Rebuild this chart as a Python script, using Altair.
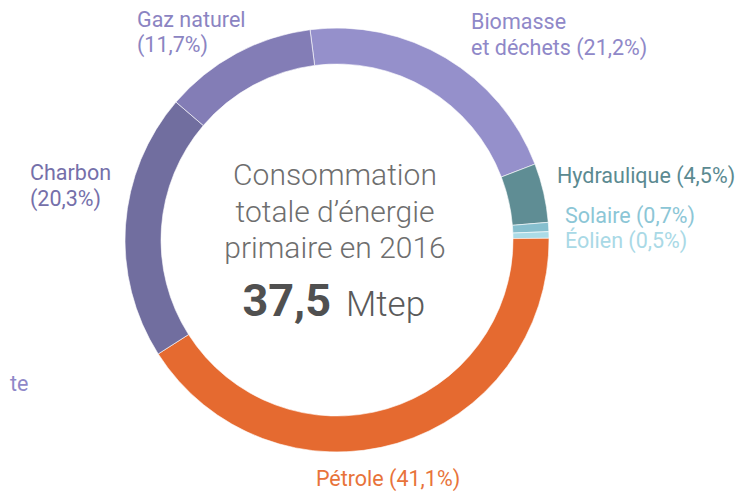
import math
import altair as alt
import pandas as pd

# ---- data ----
categories = ["Biomasse et déchets", "Hydraulique", "Solaire", "Éolien", "Pétrole", "Charbon", "Gaz naturel"]
shares = [21.2, 4.5, 0.7, 0.5, 41.1, 20.3, 11.7]
seg_colors = ["#9590cb", "#5f8d94", "#86bfce", "#abdbe7", "#e56a30", "#716e9f", "#837db6"]

label_texts = [
    "Biomasse\net déchets (21,2%)",
    "Hydraulique (4,5%)",
    "Solaire (0,7%)",
    "Éolien (0,5%)",
    "Pétrole (41,1%)",
    "Charbon\n(20,3%)",
    "Gaz naturel\n(11,7%)",
]
label_colors = ["#8f88c8", "#5b8a91", "#8cc6d6", "#a9d9e6", "#e8733a", "#7570aa", "#8b84c2"]

center_lines = "Consommation\ntotale d’énergie\nprimaire en 2016"
total_value = "37,5"
total_unit = "Mtep"
stray_text = "te"

df = pd.DataFrame({"cat": categories, "share": shares, "idx": list(range(len(categories)))})

CX, CY = 329, 232
start = -7.3 * math.pi / 180

arcs = alt.Chart(df).mark_arc(innerRadius=176, outerRadius=212, stroke="white", strokeWidth=0.6).encode(
    theta=alt.Theta("share:Q", stack=True, scale=alt.Scale(range=[start, start + 2 * math.pi])),
    color=alt.Color("cat:N", scale=alt.Scale(domain=categories, range=seg_colors), legend=None),
    order=alt.Order("idx:Q"),
    x=alt.value(CX),
    y=alt.value(CY),
)

FONT = "Roboto"
LSIZE = 21.5


def label(i, x, y, align="left", size=LSIZE, lh=26):
    d = pd.DataFrame({"t": [label_texts[i]]})
    return alt.Chart(d).mark_text(
        font=FONT, fontSize=size, align=align, baseline="alphabetic",
        lineBreak="\n", lineHeight=lh, color=label_colors[i]
    ).encode(text="t:N", x=alt.value(x), y=alt.value(y))


# positions in chart coords (page minus 8px margin)
lbls = [
    label(0, 463, 21),
    label(1, 549, 175),
    label(2, 557, 215),
    label(3, 557, 240),
    label(4, 380, 478, align="center"),
    label(5, 22, 172),
    label(6, 129, 19, lh=24.5),
]

stray = alt.Chart(pd.DataFrame({"t": [stray_text]})).mark_text(
    font=FONT, fontSize=LSIZE, align="left", baseline="alphabetic", color="#8f88c8"
).encode(text="t:N", x=alt.value(2), y=alt.value(383))

center = alt.Chart(pd.DataFrame({"t": [center_lines]})).mark_text(
    font=FONT, fontSize=30, fontWeight=300, align="center", baseline="alphabetic",
    lineBreak="\n", lineHeight=36.5, color="#6e6e6e"
).encode(text="t:N", x=alt.value(327), y=alt.value(177))

val = alt.Chart(pd.DataFrame({"t": [total_value]})).mark_text(
    font=FONT, fontSize=45, fontWeight="bold", align="right", baseline="alphabetic", color="#505050"
).encode(text="t:N", x=alt.value(323), y=alt.value(308))

unit = alt.Chart(pd.DataFrame({"t": [total_unit]})).mark_text(
    font=FONT, fontSize=35, fontWeight=300, align="left", baseline="alphabetic", color="#5a5a5a"
).encode(text="t:N", x=alt.value(338), y=alt.value(308))

chart = alt.layer(arcs, *lbls, stray, center, val, unit).properties(
    width=728, height=479, padding=0
).configure_view(stroke=None)

chart.save("out.html", embed_options={"renderer": "svg", "actions": False})
